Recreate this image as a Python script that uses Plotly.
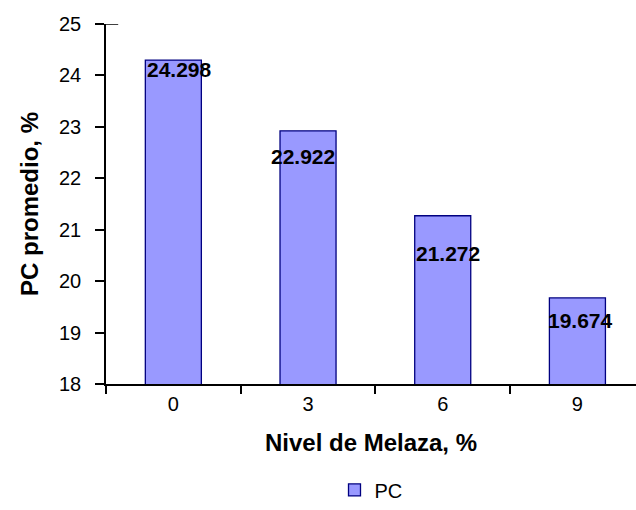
import plotly.graph_objects as go

niveles = ['0', '3', '6', '9']
pc = [24.298, 22.922, 21.272, 19.674]
etiquetas = ['24.298', '22.922', '21.272', '19.674']

fig = go.Figure()
fig.add_trace(go.Bar(x=niveles, y=pc, name='PC', marker=dict(color='#9999FF', line=dict(color='#000080', width=1.3))))

# etiquetas de datos (desplazamiento respecto al borde superior de cada barra)
# en eje categórico x se da como índice de categoría
desp_y = [-9, -26, -38, -23]
desp_x = [6, -5, 5, 3]
for i, (v, t) in enumerate(zip(pc, etiquetas)):
    fig.add_annotation(x=i, y=v, text='<b>' + t + '</b>', showarrow=False, yshift=desp_y[i], xshift=desp_x[i],
                       font=dict(family='Liberation Sans, Arial', size=21, color='black'))

# pequeño trazo en el extremo superior del eje Y
fig.add_shape(type='line', xref='paper', yref='y', x0=-0.019, x1=0.023, y0=25, y1=25,
              line=dict(color='black', width=1.5))

fig.update_layout(
    width=636, height=510, plot_bgcolor='white', paper_bgcolor='white',
    margin=dict(l=106, r=0, t=24, b=102),
    font=dict(family='Liberation Sans, Arial', size=20, color='black'),
    bargap=0.584, showlegend=True,
    legend=dict(orientation='h', x=0.5, xanchor='center', y=-0.24, yanchor='top', font=dict(size=20)),
)
fig.update_xaxes(type='category', range=[-0.5, 3.435], automargin=False,
                 title=dict(text='<b>Nivel de Melaza, %</b>', standoff=20),
                 showline=True, linecolor='black', linewidth=1.5, ticks='outside', tickson='boundaries', ticklen=8,
                 tickcolor='black', tickwidth=1.5, ticklabelstandoff=1, showgrid=False)
fig.update_yaxes(automargin=False, title=dict(text='<b>PC promedio, %</b>', standoff=14), range=[18, 25], dtick=1,
                 showline=True, linecolor='black', linewidth=1.5, ticks='outside', ticklen=9, tickcolor='black',
                 tickwidth=1.5, ticklabelstandoff=10, showgrid=False, zeroline=False)

fig.write_html('out.html', config={'displayModeBar': False}, post_script="document.body.style.margin='0';")
